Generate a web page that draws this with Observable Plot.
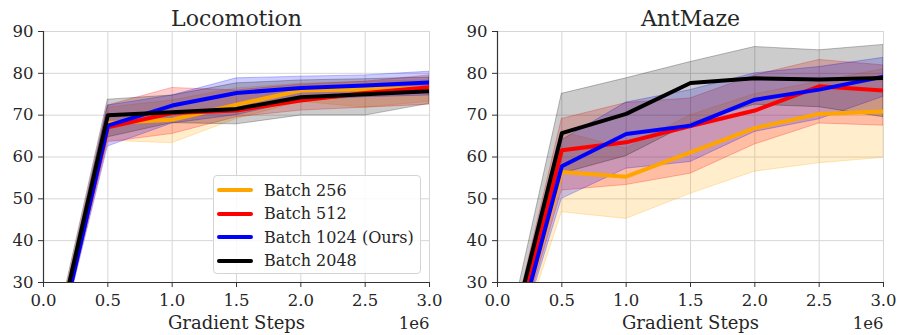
<!DOCTYPE html>
<html>
<head>
<meta charset="utf-8">
<script src="https://cdn.jsdelivr.net/npm/d3@7"></script>
<script src="https://cdn.jsdelivr.net/npm/@observablehq/plot@0.6"></script>
<style>
  html, body { margin: 0; padding: 0; background: #fff; }
  #wrap { position: relative; width: 898px; height: 335px; font-family: 'DejaVu Serif'; }
  #wrap svg { position: absolute; top: 0; }
  #legend { position: absolute; left: 213px; top: 175px; width: 206px; height: 97px; border: 1px solid #d4d4d4; border-radius: 4px; background: rgba(255,255,255,0.85); }
  .item { position: absolute; left: 3px; height: 20px; display: flex; align-items: center; font-size: 16px; color: #262626; white-space: nowrap; }
  .sw { width: 36px; height: 4px; border-radius: 2px; margin-right: 11px; }
</style>
</head>
<body>
<div id="wrap"><div id="legend"></div></div>
<script>
// ---- data ----
const steps = [0, 0.5, 1.0, 1.5, 2.0, 2.5, 3.0];           // x 1e6
const seriesNames = ["Batch 256", "Batch 512", "Batch 1024 (Ours)", "Batch 2048"];
const seriesColors = ["orange", "red", "blue", "black"];
const panelTitles = ["Locomotion", "AntMaze"];
const xTicks = [0, 0.5, 1.0, 1.5, 2.0, 2.5, 3.0];
const yTicks = [30, 40, 50, 60, 70, 80, 90];

// Locomotion
const locoMean256  = [2, 68.1, 68.9, 72.5, 75.9, 76.2, 76.5];
const locoLow256   = [0, 63.9, 63.3, 69.1, 73.2, 71.8, 73.2];
const locoHigh256  = [4, 71.8, 73.5, 76.4, 77.5, 78.0, 78.3];
const locoMean512  = [2, 67.1, 70.5, 71.1, 73.5, 75.3, 76.7];
const locoLow512   = [0, 63.5, 65.5, 69.5, 71.1, 71.8, 72.5];
const locoHigh512  = [4, 72.3, 76.5, 75.9, 77.3, 78.0, 79.5];
const locoMean1024 = [1, 67.5, 72.3, 75.3, 76.5, 77.1, 77.8];
const locoLow1024  = [0, 62.5, 68.0, 70.0, 73.5, 74.3, 74.7];
const locoHigh1024 = [3, 72.3, 74.7, 78.8, 79.2, 79.5, 80.4];
const locoMean2048 = [3, 70.0, 70.7, 71.5, 74.3, 75.0, 75.7];
const locoLow2048  = [1, 64.7, 68.1, 67.8, 69.9, 69.9, 72.7];
const locoHigh2048 = [5, 73.7, 74.7, 77.6, 78.3, 78.6, 79.0];

// AntMaze
const antMean256  = [1, 56.4, 55.3, 61.1, 66.9, 70.3, 70.9];
const antLow256   = [0, 46.8, 45.2, 51.2, 56.5, 58.5, 59.8];
const antHigh256  = [3, 66.0, 62.0, 70.0, 75.0, 78.0, 81.0];
const antMean512  = [2, 61.6, 63.5, 67.4, 71.1, 76.9, 75.9];
const antLow512   = [0, 52.0, 53.3, 56.0, 63.0, 68.0, 67.5];
const antHigh512  = [4, 69.1, 72.9, 74.0, 79.5, 83.2, 81.9];
const antMean1024 = [0, 57.8, 65.5, 67.5, 73.7, 76.1, 79.2];
const antLow1024  = [0, 50.0, 57.2, 58.8, 66.0, 69.0, 74.4];
const antHigh1024 = [2, 64.0, 73.0, 76.0, 80.0, 81.5, 83.7];
const antMean2048 = [4, 65.7, 70.3, 77.7, 78.8, 78.5, 78.9];
const antLow2048  = [2, 56.0, 60.2, 68.0, 72.5, 71.9, 69.5];
const antHigh2048 = [6, 75.1, 78.8, 82.7, 86.3, 85.5, 86.8];

const FF = "DejaVu Serif";
const INK = "#262626";

function rows(means, lows, highs) {
  const out = [];
  means.forEach((m, s) => steps.forEach((x, i) => out.push({
    x, y: m[i], lo: lows[s][i], hi: highs[s][i], series: seriesNames[s]
  })));
  return out;
}
const panels = [
  { title: panelTitles[0], left: 0, ml: 43, mr: 20,
    data: rows([locoMean256, locoMean512, locoMean1024, locoMean2048],
               [locoLow256, locoLow512, locoLow1024, locoLow2048],
               [locoHigh256, locoHigh512, locoHigh1024, locoHigh2048]) },
  { title: panelTitles[1], left: 449, ml: 48, mr: 15,
    data: rows([antMean256, antMean512, antMean1024, antMean2048],
               [antLow256, antLow512, antLow1024, antLow2048],
               [antHigh256, antHigh512, antHigh1024, antHigh2048]) }
];

const wrap = document.getElementById("wrap");
const hasAxisMarks = typeof Plot.axisX === "function";
for (const p of panels) {
  const axisMarks = hasAxisMarks ? [
    Plot.axisX({ ticks: xTicks, tickFormat: d => d.toFixed(1), label: null, tickSize: 5, tickPadding: 7,
                 fontSize: 16.5, fontFamily: FF, fill: INK, stroke: "#333" }),
    Plot.axisY({ ticks: yTicks, label: null, tickSize: 5, tickPadding: 5,
                 fontSize: 16.5, fontFamily: FF, fill: INK, stroke: "#333" })
  ] : [];
  const chart = Plot.plot({
    width: 449, height: 335,
    marginLeft: p.ml, marginRight: p.mr, marginTop: 31, marginBottom: 53,
    style: { fontFamily: FF, fontSize: "16.5px", color: INK, background: "white", overflow: "visible" },
    x: { domain: [0, 3], ticks: xTicks, tickFormat: d => d.toFixed(1), label: null, tickSize: 5, tickPadding: 7 },
    y: { domain: [30, 90], ticks: yTicks, label: null, tickSize: 5, tickPadding: 5 },
    color: { domain: seriesNames, range: seriesColors },
    marks: [
      Plot.ruleX(xTicks, { stroke: "#d6d6d6", strokeWidth: 1 }),
      Plot.ruleY(yTicks, { stroke: "#d6d6d6", strokeWidth: 1 }),
      Plot.areaY(p.data, { x: "x", y1: "lo", y2: "hi", z: "series", fill: "series", fillOpacity: 0.2,
                           stroke: "series", strokeOpacity: 0.25, strokeWidth: 1, clip: true }),
      Plot.lineY(p.data, { x: "x", y: "y", z: "series", stroke: "series", strokeWidth: 4, clip: true }),
      ...axisMarks,
      Plot.ruleX([0], { stroke: "#333", strokeWidth: 1.2 }),
      Plot.ruleY([30], { stroke: "#333", strokeWidth: 1.2 }),
      Plot.text([p.title], { frameAnchor: "top", dy: -6, fontSize: 22, lineAnchor: "bottom", fill: INK, fontFamily: FF }),
      Plot.text(["Gradient Steps"], { frameAnchor: "bottom", dy: 46, fontSize: 18, lineAnchor: "bottom", fill: INK, fontFamily: FF }),
      Plot.text(["1e6"], { frameAnchor: "bottom-right", dy: 46, textAnchor: "end", fontSize: 16.5, lineAnchor: "bottom", fill: INK, fontFamily: FF })
    ]
  });
  chart.style.left = p.left + "px";
  chart.querySelectorAll("text").forEach(t => t.setAttribute("font-family", FF));
  wrap.insertBefore(chart, document.getElementById("legend"));
}

const legend = document.getElementById("legend");
seriesNames.forEach((name, i) => {
  const it = document.createElement("div");
  it.className = "item";
  it.style.top = (4 + i * 23.5) + "px";
  it.style.fontFamily = FF;
  it.innerHTML = `<div class="sw" style="background:${seriesColors[i]}"></div><span>${name}</span>`;
  legend.appendChild(it);
});
</script>
</body>
</html>
